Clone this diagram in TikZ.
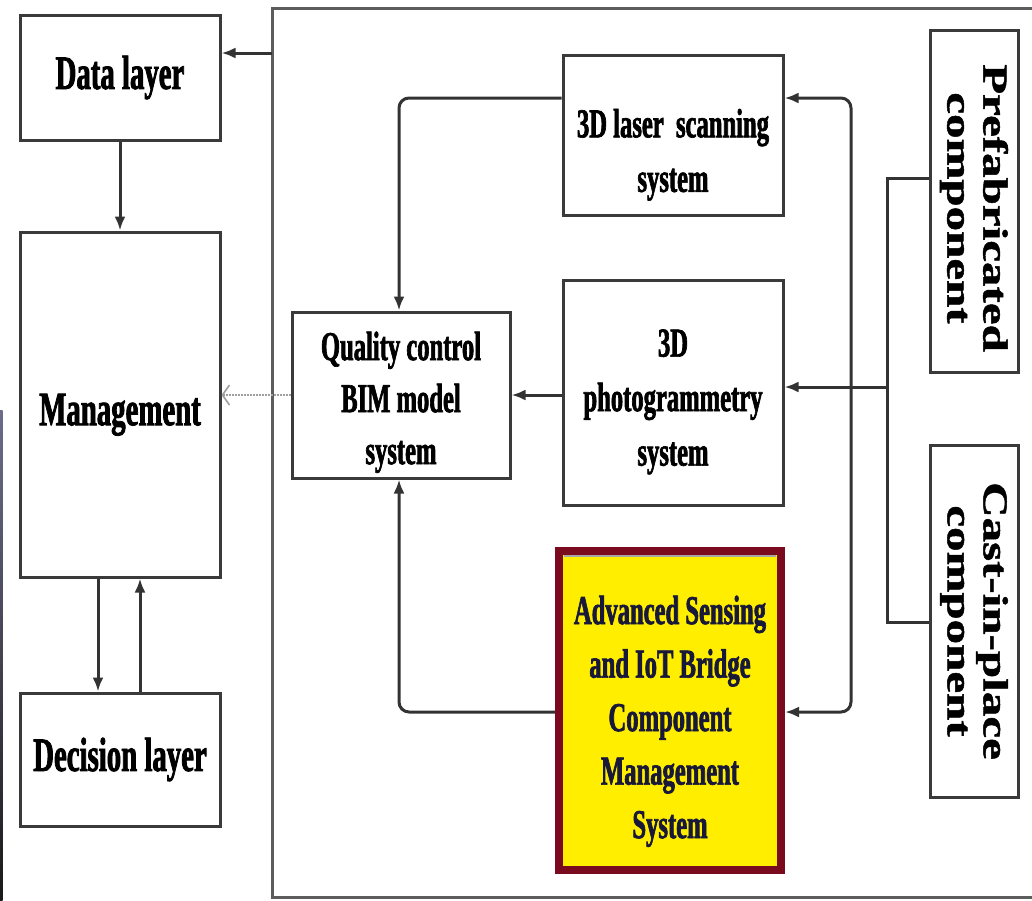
\documentclass[tikz,border=0pt]{standalone}
\usepackage{fontspec}
\setmainfont{Liberation Serif}
% condensed heavy face for the box labels, widened face for the vertical labels
\newfontfamily\narrowfont{Liberation Serif}[FakeStretch=0.6, BoldFeatures={FakeBold=1.6}]
\newfontfamily\widefont{Liberation Serif}[FakeStretch=1.4, BoldFeatures={FakeBold=1.4}]
\usetikzlibrary{arrows.meta}

\definecolor{edge}{HTML}{3A3A3A}
\definecolor{wire}{HTML}{333333}
\definecolor{framepen}{HTML}{5C5C5C}
\definecolor{maroonedge}{HTML}{7A0A1E}
\definecolor{hiyellow}{HTML}{FFEE00}
\definecolor{navyink}{HTML}{181838}

% a tall strut that lowers a label inside its box
\newcommand{\lowerby}[1]{\rule{0pt}{#1}}

\tikzset{
  >={Latex[length=14pt,width=11pt]},
  box/.style={draw=edge, line width=3pt, fill=white, inner sep=0pt,
    align=center, text=black},
  layerbox/.style={box, font=\narrowfont\bfseries\fontsize{48}{56}\selectfont},
  sysbox/.style={box, font=\narrowfont\bfseries\fontsize{41}{52}\selectfont},
  widesysbox/.style={box, font=\narrowfont\bfseries\fontsize{41}{54.5}\selectfont},
  sidebox/.style={box, rotate=-90, font=\widefont\bfseries\fontsize{35}{36}\selectfont},
  keybox/.style={draw=maroonedge, line width=8pt, fill=hiyellow, inner sep=0pt,
    align=center, text=navyink,
    font=\narrowfont\bfseries\fontsize{41}{53.5}\selectfont},
  flow/.style={draw=wire, line width=3pt, ->},
  twoway/.style={draw=wire, line width=3pt, <->, rounded corners=10pt},
  elbow/.style={draw=wire, line width=3pt, ->, rounded corners=10pt},
  feed/.style={draw=wire, line width=3pt},
  hint/.style={draw=gray!75, line width=1.6pt, dash pattern=on 1.6pt off 1.4pt,
    -{Straight Barb[length=7pt,width=20pt,line width=1.6pt]}},
  framestyle/.style={draw=framepen, line width=3pt},
}

\begin{document}
\begin{tikzpicture}[x=1pt,y=-1pt]
  \useasboundingbox (0,0) rectangle (1032,900);
  \fill[white] (0,0) rectangle (1032,900);

  % thin dark strip along the lower left edge
  \shade[top color=black!25!blue!15!gray, bottom color=black!90] (0,410) rectangle (2.5,900);

  % outer frame around the acquisition side
  \draw[framestyle] (1032,8) -- (272,8) -- (272,897) -- (1032,897);

  % left column: layers
  \node[layerbox, minimum width=200pt, minimum height=125pt] (data) at (120,77.5) {Data layer};
  \node[layerbox, minimum width=200pt, minimum height=345pt] (mgmt) at (120,404.5)
    {\lowerby{52pt}Management};
  \node[layerbox, minimum width=200pt, minimum height=133pt] (dec) at (120,759.5) {Decision layer};

  % middle: systems
  \node[sysbox, minimum width=218pt, minimum height=166pt] (qc) at (401,395)
    {\lowerby{43pt}Quality control\\BIM model\\system};
  \node[widesysbox, minimum width=220pt, minimum height=160pt] (laser) at (673,135)
    {\lowerby{68pt}3D laser~ scanning\\system};
  \node[widesysbox, minimum width=220pt, minimum height=225pt] (photo) at (673,392.5)
    {\lowerby{46pt}3D\\photogrammetry\\system};
  \node[keybox, minimum width=222pt, minimum height=319pt] (ycms) at (670,710.5)
    {\lowerby{50pt}Advanced Sensing\\and IoT Bridge\\Component\\Management\\System};
  \draw[gray!70, line width=1.2pt] (564,556) -- (776,556);

  % right: component sources (text reads top to bottom)
  \node[sidebox, minimum width=342pt, minimum height=88pt] (prefab) at (974,201)
    {\lowerby{0pt}\hspace{14pt}Prefabricated\\\hspace{14pt}component};
  \node[sidebox, minimum width=352pt, minimum height=88pt] (cast) at (974,621)
    {Cast-in-place\\component};

  % routing points
  \coordinate (fa) at (272,53);
  \coordinate (d1) at (98,600);
  \coordinate (d2) at (140,600);
  \coordinate (lt) at (399,98);
  \coordinate (lb) at (399,712);
  \coordinate (rb1) at (851,98);
  \coordinate (rb2) at (851,712);
  \coordinate (pj1) at (887,178);
  \coordinate (pj2) at (887,387);
  \coordinate (pj3) at (887,622);

  % connectors on the left
  \draw[flow] (fa) -- (data.east |- fa);
  \draw[flow] (data.south) -- (mgmt.north);
  \draw[flow] (mgmt.south -| d1) -- (dec.north -| d1);
  \draw[flow] (dec.north -| d2) -- (mgmt.south -| d2);
  \draw[hint] (qc.west) -- (mgmt.east |- qc.west);

  % connectors into the quality control system
  \draw[elbow] (laser.west |- lt) -- (lt) -- (qc.north -| lt);
  \draw[elbow] (ycms.west |- lb) -- (lb) -- (qc.south -| lb);
  \draw[flow] (photo.west |- qc.east) -- (qc.east);

  % component sources feeding the systems
  \draw[feed] (prefab.south |- pj1) -- (pj1) -- (pj3) -- (cast.south |- pj3);
  \draw[flow] (pj2) -- (photo.east |- pj2);
  \draw[twoway] (laser.east |- rb1) -- (rb1) -- (rb2) -- (ycms.east |- rb2);
\end{tikzpicture}
\end{document}
